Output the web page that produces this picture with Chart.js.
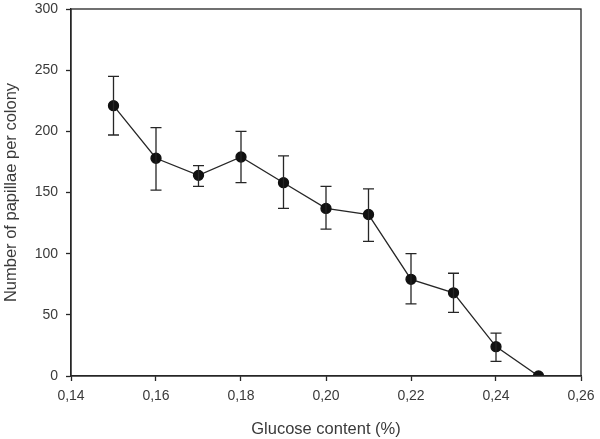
<!DOCTYPE html>
<html>
<head>
<meta charset="utf-8">
<script src="https://cdn.jsdelivr.net/npm/chart.js@4"></script>
<style>
  html, body { margin: 0; padding: 0; background: #fff; }
  #wrap { width: 600px; height: 439px; }
</style>
</head>
<body>
<div id="wrap"><canvas id="myChart" width="600" height="439"></canvas></div>
<script>
const glucose = [0.15, 0.16, 0.17, 0.18, 0.19, 0.20, 0.21, 0.22, 0.23, 0.24, 0.25];
const papillae = [221, 178, 164, 179, 158, 137, 132, 79, 68, 24, 0];
const errUpper = [245, 203, 172, 200, 180, 155, 153, 100, 84, 35, 0];
const errLower = [197, 152, 155, 158, 137, 120, 110, 59, 52, 12, 0];
const xTicks = [0.14, 0.16, 0.18, 0.20, 0.22, 0.24, 0.26];
const yTicks = [0, 50, 100, 150, 200, 250, 300];

const ctx = document.getElementById("myChart");
const ink = "#262626";
const textColor = "#3a3a3a";

const errorBars = {
  id: "errorBars",
  afterDatasetsDraw(chart) {
    const c = chart.ctx;
    const xs = chart.scales.x;
    const ys = chart.scales.y;
    c.save();
    c.strokeStyle = ink;
    c.lineWidth = 1.3;
    glucose.forEach((g, i) => {
      if (errUpper[i] === errLower[i]) return;
      const px = xs.getPixelForValue(g);
      const top = ys.getPixelForValue(errUpper[i]);
      const bot = ys.getPixelForValue(errLower[i]);
      c.beginPath();
      c.moveTo(px, top);
      c.lineTo(px, bot);
      c.moveTo(px - 5.5, top);
      c.lineTo(px + 5.5, top);
      c.moveTo(px - 5.5, bot);
      c.lineTo(px + 5.5, bot);
      c.stroke();
    });
    c.restore();
  },
};

const frame = {
  id: "frame",
  afterDraw(chart) {
    const a = chart.chartArea;
    const c = chart.ctx;
    c.save();
    c.strokeStyle = ink;
    c.lineWidth = 1.3;
    c.strokeRect(a.left, a.top, a.right - a.left, a.bottom - a.top);
    c.restore();
  },
};

new Chart(ctx, {
  type: "scatter",
  data: {
    datasets: [
      {
        data: glucose.map((g, i) => ({ x: g, y: papillae[i] })),
        showLine: true,
        borderColor: ink,
        borderWidth: 1.3,
        backgroundColor: "#111",
        pointBackgroundColor: "#111",
        pointBorderColor: "#111",
        pointRadius: 5,
        pointHoverRadius: 5,
      },
    ],
  },
  options: {
    responsive: false,
    animation: false,
    layout: { padding: { top: 9, right: 19, left: 0, bottom: 0 } },
    plugins: { legend: { display: false }, tooltip: { enabled: false } },
    scales: {
      x: {
        type: "linear",
        min: 0.14,
        max: 0.26,
        afterBuildTicks(scale) {
          scale.ticks = xTicks.map((v) => ({ value: v }));
        },
        afterFit(scale) {
          scale.height = 63;
          scale.paddingLeft = 0;
          scale.paddingRight = 0;
        },
        ticks: {
          color: textColor,
          font: { family: "Liberation Sans", size: 14 },
          padding: 7,
          maxRotation: 0,
          callback: (v) => v.toFixed(2).replace(".", ","),
        },
        grid: { drawOnChartArea: false, tickLength: 5, tickColor: ink, tickWidth: 1.3 },
        border: { color: ink, width: 1.3 },
        title: {
          display: true,
          text: "Glucose content (%)",
          color: textColor,
          font: { family: "Liberation Sans", size: 16.5 },
          padding: { top: 0, bottom: 0 },
        },
      },
      y: {
        min: 0,
        max: 300,
        afterBuildTicks(scale) {
          scale.ticks = yTicks.map((v) => ({ value: v }));
        },
        afterFit(scale) {
          scale.width = 71;
          scale.paddingTop = 0;
          scale.paddingBottom = 0;
        },
        ticks: {
          color: textColor,
          font: { family: "Liberation Sans", size: 14 },
          padding: 8,
        },
        grid: { drawOnChartArea: false, tickLength: 5, tickColor: ink, tickWidth: 1.3 },
        border: { color: ink, width: 1.3 },
        title: {
          display: true,
          text: "Number of papillae per colony",
          color: textColor,
          font: { family: "Liberation Sans", size: 16.5 },
          padding: { top: 2 },
        },
      },
    },
  },
  plugins: [errorBars, frame],
});
</script>
</body>
</html>
